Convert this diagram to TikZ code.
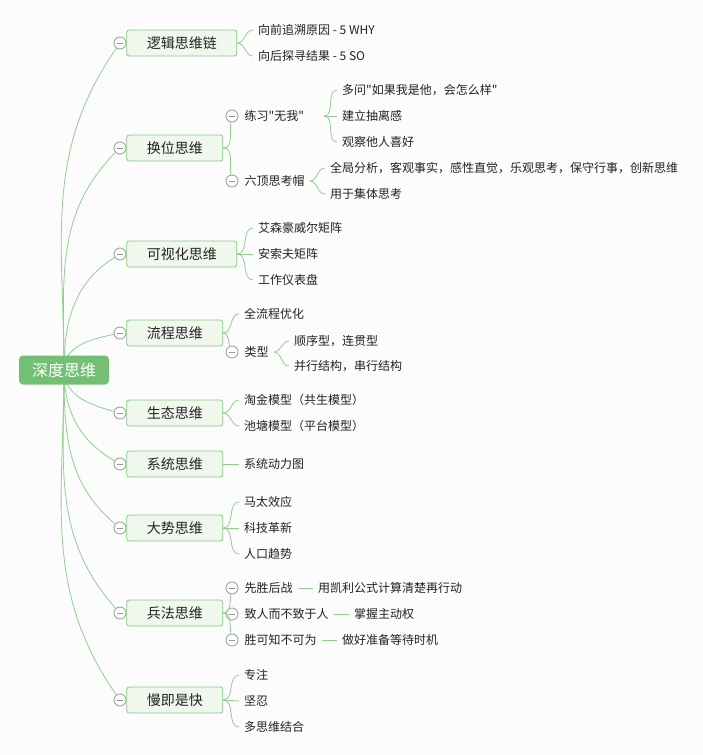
\documentclass[tikz,border=0pt]{standalone}
\usepackage{fontspec}
\newfontfamily\cjk{Noto Sans CJK SC}
\usetikzlibrary{positioning}
\definecolor{bggray}{RGB}{252,252,252}
\definecolor{linegreen}{RGB}{143,208,140}
\definecolor{boxgreen}{RGB}{132,202,128}
\definecolor{boxfill}{RGB}{240,248,238}
\definecolor{rootgreen}{RGB}{115,192,117}
\definecolor{foldgray}{RGB}{150,150,150}
\definecolor{textgray}{RGB}{34,34,34}

\begin{document}
\begin{tikzpicture}[x=1pt, y=1pt,
    root/.style={fill=rootgreen, text=white, rounded corners=4pt, minimum width=90pt, minimum height=29pt, font=\cjk\fontsize{16}{18}\selectfont},
    topic/.style={draw=boxgreen, fill=boxfill, line width=0.8pt, rounded corners=2.5pt, minimum height=26pt, inner xsep=20pt, text=textgray, font=\cjk\fontsize{14}{16}\selectfont},
    leaf/.style={inner xsep=5pt, inner ysep=2pt, anchor=west, text=textgray, font=\cjk\fontsize{12}{14}\selectfont},
    fold/.style={circle, draw=foldgray, fill=white, line width=0.8pt, minimum size=12pt, inner sep=0pt,
        path picture={\draw[foldgray, line width=0.8pt] ([xshift=3pt]path picture bounding box.west) -- ([xshift=-3pt]path picture bounding box.east);}},
    link/.style={draw=linegreen, line width=0.8pt}
]
    \fill[bggray] (0,0) rectangle (703,-755);
    \useasboundingbox (0,0) rectangle (703,-755);

    % branches
    \node[fold] (f1) at (120,-43) {};
    \node[topic, right=0pt of f1] (b1) {逻辑思维链};
    \node[fold] (f2) at (120,-148) {};
    \node[topic, right=0pt of f2] (b2) {换位思维};
    \node[fold] (f3) at (120,-254) {};
    \node[topic, right=0pt of f3] (b3) {可视化思维};
    \node[fold] (f4) at (120,-333) {};
    \node[topic, right=0pt of f4] (b4) {流程思维};
    \node[fold] (f5) at (120,-413) {};
    \node[topic, right=0pt of f5] (b5) {生态思维};
    \node[fold] (f6) at (120,-464) {};
    \node[topic, right=0pt of f6] (b6) {系统思维};
    \node[fold] (f7) at (120,-528) {};
    \node[topic, right=0pt of f7] (b7) {大势思维};
    \node[fold] (f8) at (120,-613) {};
    \node[topic, right=0pt of f8] (b8) {兵法思维};
    \node[fold] (f9) at (120,-700) {};
    \node[topic, right=0pt of f9] (b9) {慢即是快};

    \coordinate (hub) at (64,-370);
    \draw[link] (hub) to[out=90, in=235] (f1);
    \draw[link] (hub) to[out=90, in=225] (f2);
    \draw[link] (hub) to[out=90, in=212] (f3);
    \draw[link] (hub) to[out=90, in=192] (f4);
    \draw[link] (hub) to[out=-90, in=165] (f5);
    \draw[link] (hub) to[out=-90, in=150] (f6);
    \draw[link] (hub) to[out=-90, in=140] (f7);
    \draw[link] (hub) to[out=-90, in=132] (f8);
    \draw[link] (hub) to[out=-90, in=125] (f9);
    \node[root] (root) at (hub) {深度思维};

    % 逻辑思维链
    \node[leaf] (t11) at (253,-30) {向前追溯原因 - 5 WHY};
    \node[leaf] (t12) at (253,-56) {向后探寻结果 - 5 SO};
    \draw[link] (b1.east) to[out=0, in=180] (t11.west);
    \draw[link] (b1.east) to[out=0, in=180] (t12.west);

    % 换位思维
    \node[fold] (f21) at (232,-116) {};
    \node[leaf, right=1pt of f21] (t21) {练习"无我"};
    \node[fold] (f22) at (232,-181) {};
    \node[leaf, right=1pt of f22] (t22) {六顶思考帽};
    \draw[link] (b2.east) to[out=0, in=-100] (f21);
    \draw[link] (b2.east) to[out=0, in=100] (f22);
    \node[leaf] (t211) at (337,-90) {多问"如果我是他，会怎么样"};
    \node[leaf] (t212) at (337,-116) {建立抽离感};
    \node[leaf] (t213) at (337,-142) {观察他人喜好};
    \draw[link] ([xshift=15pt]t21.east) to[out=0, in=180] (t211.west);
    \draw[link] ([xshift=15pt]t21.east) -- (t212.west);
    \draw[link] ([xshift=15pt]t21.east) to[out=0, in=180] (t213.west);
    \node[leaf] (t221) at (325,-168) {全局分析，客观事实，感性直觉，乐观思考，保守行事，创新思维};
    \node[leaf] (t222) at (325,-194) {用于集体思考};
    \draw[link] (t22.east) to[out=0, in=180] (t221.west);
    \draw[link] (t22.east) to[out=0, in=180] (t222.west);

    % 可视化思维
    \node[leaf] (t31) at (253,-228) {艾森豪威尔矩阵};
    \node[leaf] (t32) at (253,-254) {安索夫矩阵};
    \node[leaf] (t33) at (253,-280) {工作仪表盘};
    \draw[link] (b3.east) to[out=0, in=180] (t31.west);
    \draw[link] (b3.east) -- (t32.west);
    \draw[link] (b3.east) to[out=0, in=180] (t33.west);

    % 流程思维
    \node[leaf] (t41) at (239,-314) {全流程优化};
    \node[fold] (f42) at (232,-352) {};
    \node[leaf, right=1pt of f42] (t42) {类型};
    \draw[link] (b4.east) to[out=0, in=180] (t41.west);
    \draw[link] (b4.east) to[out=0, in=110] (f42);
    \node[leaf] (t421) at (289,-341) {顺序型，连贯型};
    \node[leaf] (t422) at (289,-366) {并行结构，串行结构};
    \draw[link] (t42.east) to[out=0, in=180] (t421.west);
    \draw[link] (t42.east) to[out=0, in=180] (t422.west);

    % 生态思维
    \node[leaf] (t51) at (239,-400) {淘金模型（共生模型）};
    \node[leaf] (t52) at (239,-426) {池塘模型（平台模型）};
    \draw[link] (b5.east) to[out=0, in=180] (t51.west);
    \draw[link] (b5.east) to[out=0, in=180] (t52.west);

    % 系统思维
    \node[leaf] (t61) at (239,-464) {系统动力图};
    \draw[link] (b6.east) -- (t61.west);

    % 大势思维
    \node[leaf] (t71) at (239,-502) {马太效应};
    \node[leaf] (t72) at (239,-528) {科技革新};
    \node[leaf] (t73) at (239,-554) {人口趋势};
    \draw[link] (b7.east) to[out=0, in=180] (t71.west);
    \draw[link] (b7.east) -- (t72.west);
    \draw[link] (b7.east) to[out=0, in=180] (t73.west);

    % 兵法思维
    \node[fold] (f81) at (232,-588) {};
    \node[leaf, right=1pt of f81] (t81) {先胜后战};
    \node[fold] (f82) at (232,-614) {};
    \node[leaf, right=1pt of f82] (t82) {致人而不致于人};
    \node[fold] (f83) at (232,-640) {};
    \node[leaf, right=1pt of f83] (t83) {胜可知不可为};
    \draw[link] (b8.east) to[out=0, in=-100] (f81);
    \draw[link] (b8.east) -- (f82);
    \draw[link] (b8.east) to[out=0, in=100] (f83);
    \node[leaf] (t811) at (313,-588) {用凯利公式计算清楚再行动};
    \node[leaf] (t821) at (349,-614) {掌握主动权};
    \node[leaf] (t831) at (337,-640) {做好准备等待时机};
    \draw[link] (t81) -- (t811);
    \draw[link] (t82) -- (t821);
    \draw[link] (t83) -- (t831);

    % 慢即是快
    \node[leaf] (t91) at (239,-675) {专注};
    \node[leaf] (t92) at (239,-701) {坚忍};
    \node[leaf] (t93) at (239,-727) {多思维结合};
    \draw[link] (b9.east) to[out=0, in=180] (t91.west);
    \draw[link] (b9.east) -- (t92.west);
    \draw[link] (b9.east) to[out=0, in=180] (t93.west);
\end{tikzpicture}
\end{document}
